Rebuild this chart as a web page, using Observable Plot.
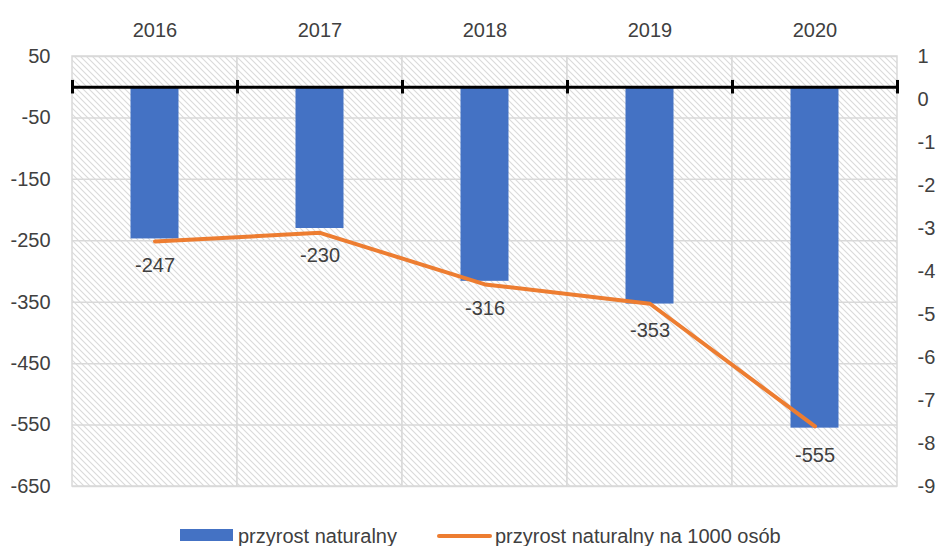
<!DOCTYPE html>
<html>
<head>
<meta charset="utf-8">
<script src="https://cdn.jsdelivr.net/npm/d3@7"></script>
<script src="https://cdn.jsdelivr.net/npm/@observablehq/plot@0.6"></script>
<style>
  html, body { margin: 0; padding: 0; background: #fff; overflow: hidden; width: 938px; height: 546px; }
  #wrap { position: relative; width: 938px; height: 546px; font-family: 'Liberation Sans', Arial, sans-serif; color: #404040; }
  .lg { position: absolute; font-size: 20px; line-height: 20px; white-space: nowrap; }
</style>
</head>
<body>
<div id="wrap">
  <div id="chart"></div>
  <div class="lg" style="left:180px; top:529px; width:53px; height:12px; background:#4472C4;"></div>
  <div class="lg" style="left:238px; top:526px;">przyrost naturalny</div>
  <div class="lg" style="left:437px; top:534px; width:55px; height:4px; border-radius:2px; background:#ED7D31;"></div>
  <div class="lg" style="left:495px; top:526px;">przyrost naturalny na 1000 osób</div>
</div>
<script>
const years = ["2016", "2017", "2018", "2019", "2020"];
const growth = [-247, -230, -316, -353, -555];
const growthPer1000 = [-3.3, -3.1, -4.3, -4.75, -7.6];
const leftTicks = [50, -50, -150, -250, -350, -450, -550, -650];
const rightTicks = [1, 0, -1, -2, -3, -4, -5, -6, -7, -8, -9];

// right axis [-9, 1] maps onto left axis [-650, 50]
const toLeft = v => 50 + (v - 1) * 70;
const fromLeft = y => Math.round((y - 50) / 70 + 1);

const data = years.map((year, i) => ({year, growth: growth[i], rate: growthPer1000[i]}));

const W = 938, H = 500, mL = 72, mR = 41, mT = 56, mB = 14;
const bw = (W - mL - mR) / years.length;

const chart = Plot.plot({
  width: W, height: H,
  marginLeft: mL, marginRight: mR, marginTop: mT, marginBottom: mB,
  style: {fontSize: "20px", fontFamily: "'Liberation Sans', Arial, sans-serif", color: "#404040", background: "#fff"},
  x: {type: "band", domain: years, padding: 0},
  y: {domain: [-650, 50]},
  marks: [
    Plot.barY(years, {x: d => d, y1: -650, y2: 50, fill: "url(#hatch)", stroke: "#d9d9d9", strokeWidth: 1.5}),
    Plot.ruleY(leftTicks, {stroke: "#d9d9d9", strokeWidth: 1.5}),
    Plot.barY(data, {x: "year", y: "growth", fill: "#4472C4", insetLeft: 58.5, insetRight: 58.5}),
    Plot.ruleY([0], {stroke: "#000", strokeWidth: 3}),
    Plot.ruleX(years, {x: d => d, y1: -11, y2: 11, dx: -bw / 2, stroke: "#000", strokeWidth: 3}),
    Plot.ruleX(years.slice(-1), {x: d => d, y1: -11, y2: 11, dx: bw / 2, stroke: "#000", strokeWidth: 3}),
    Plot.line(data, {x: "year", y: d => toLeft(d.rate), stroke: "#ED7D31", strokeWidth: 4}),
    Plot.text(data, {x: "year", y: "growth", text: d => String(d.growth), dy: 27, fill: "#404040", fontSize: 20}),
    Plot.axisX({anchor: "top", tickSize: 0, tickPadding: 20, label: null}),
    Plot.axisY({anchor: "left", ticks: leftTicks, tickFormat: d => String(d), tickSize: 0, tickPadding: 22, label: null}),
    Plot.axisY({anchor: "right", ticks: rightTicks.map(toLeft), tickFormat: d => String(fromLeft(d)), tickSize: 0, tickPadding: 20, label: null})
  ]
});

const defs = d3.select(chart).insert("defs", ":first-child");
const pat = defs.append("pattern").attr("id", "hatch").attr("patternUnits", "userSpaceOnUse").attr("width", 6).attr("height", 6);
pat.append("rect").attr("width", 6).attr("height", 6).attr("fill", "#fff");
pat.append("path").attr("d", "M0,0L6,6M-1,5L1,7M5,-1L7,1").attr("stroke", "#dadada").attr("stroke-width", 1.1);

document.getElementById("chart").appendChild(chart);
</script>
</body>
</html>
